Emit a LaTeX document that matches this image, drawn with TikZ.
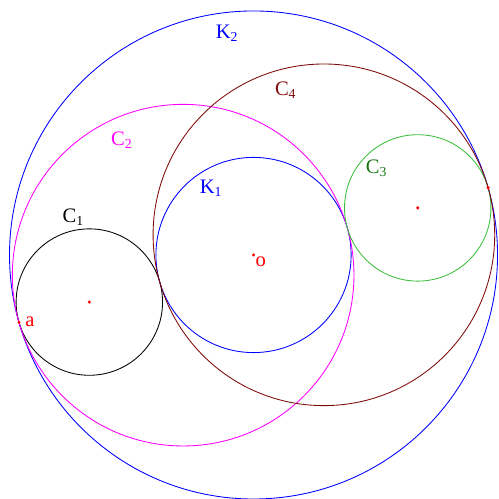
\documentclass[tikz,border=0pt]{standalone}
\usepackage{fontspec}
\setmainfont{Liberation Serif}
\definecolor{ringgreen}{RGB}{60,190,60}
\definecolor{labelgreen}{RGB}{20,120,20}
\definecolor{ringbrown}{RGB}{128,10,10}
\definecolor{ringpink}{RGB}{255,0,255}
\begin{document}
\begin{tikzpicture}[line width=0.5pt, every node/.style={font=\large}]
		% o is the common centre of K1 and K2, chain along the 16 degree line
		\useasboundingbox (-5.195, -5.0) rectangle (5.01, 5.225);
		\coordinate (o) at (0, 0);
		\coordinate (c1) at (196:3.5);
		\coordinate (c2) at (196:1.5);
		\coordinate (c3) at (16:3.5);
		\coordinate (c4) at (16:1.5);
		\coordinate (a) at (196:5);
		\coordinate (b) at (16:5);
		% circles
		\draw[blue] (o) circle (5);
		\draw[blue] (o) circle (2);
		\draw[black] (c1) circle (1.5);
		\draw[ringpink] (c2) circle (3.5);
		\draw[ringgreen] (c3) circle (1.5);
		\draw[ringbrown] (c4) circle (3.5);
		% points
		\fill[red] (o) circle (0.035);
		\fill[red] (c1) circle (0.035);
		\fill[red] (c3) circle (0.035);
		\fill[red] (a) circle (0.035);
		\fill[red] (b) circle (0.035);
		% labels
		\node[blue] (K2label) at (-0.54, 4.55) {K\textsubscript{2}};
		\node[blue] (K1label) at (-0.87, 1.37) {K\textsubscript{1}};
		\node[black] (C1label) at (-3.69, 0.78) {C\textsubscript{1}};
		\node[ringpink] (C2label) at (-2.70, 2.36) {C\textsubscript{2}};
		\node[labelgreen] (C3label) at (2.52, 1.78) {C\textsubscript{3}};
		\node[ringbrown] (C4label) at (0.66, 3.38) {C\textsubscript{4}};
		\node[red, anchor=north west, inner sep=1pt] (olabel) at (o) {o};
		\node[red, anchor=west, inner sep=3.5pt] (alabel) at (a) {a};
	\end{tikzpicture}
\end{document}
